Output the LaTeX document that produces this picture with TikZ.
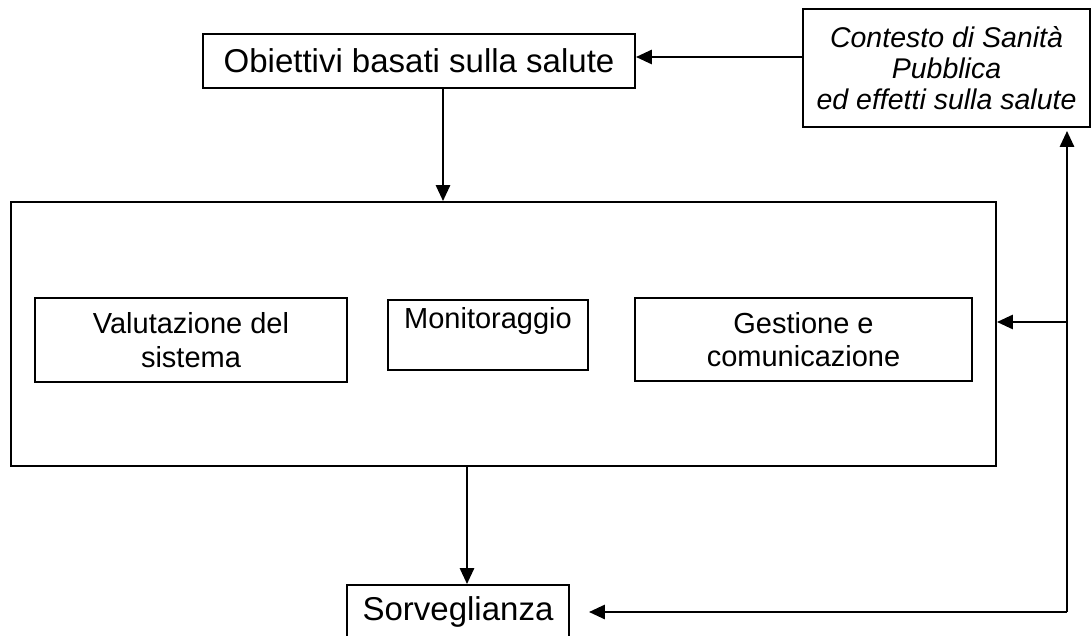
\documentclass[tikz,border=0pt]{standalone}
\usepackage{fontspec}
\setmainfont{Liberation Sans}
\usetikzlibrary{arrows.meta}
\begin{document}
\begin{tikzpicture}[x=1pt,y=-1pt,
  box/.style={draw,line width=1.8pt,inner sep=0pt,align=center,
    font=\fontsize{29}{33.5}\selectfont},
  arr/.style={line width=2.8pt,-{Triangle[length=16pt,width=14pt]}}]
\useasboundingbox (0,0) rectangle (1091,636);

\node[box,minimum width=432pt,minimum height=54pt,
  font=\fontsize{33}{38}\selectfont] (obiettivi) at (419,61) {Obiettivi basati sulla salute};
\node[box,minimum width=287pt,minimum height=118pt,
  font=\fontsize{28.5}{31}\selectfont\itshape] (contesto) at (946.5,68)
  {Contesto di Sanità\\Pubblica\\ed effetti sulla salute};

\node[box,minimum width=985pt,minimum height=264pt] (sistema) at (503.5,334) {};
\node[box,minimum width=312pt,minimum height=84pt] (valutazione) at (191,340) {Valutazione del\\sistema};
\node[box,minimum width=200pt,minimum height=70pt] (monitoraggio) at (488,335) {Monitoraggio\\~};
\node[box,minimum width=337pt,minimum height=83pt] (gestione) at (803.5,339.5) {Gestione e\\comunicazione};

\node[box,minimum width=222pt,minimum height=54pt,
  font=\fontsize{33}{38}\selectfont] (sorveglianza) at (458,612) {Sorveglianza};

% frecce
\coordinate (obin) at ([yshift=4pt]obiettivi.east);
\draw[arr] (contesto.west |- obin) -- (obin);
\coordinate (obout) at ([xshift=24pt]obiettivi.south);
\draw[arr] (obout) -- (obout |- sistema.north);
\coordinate (sorvin) at ([xshift=9pt]sorveglianza.north);
\draw[arr] (sistema.south -| sorvin) -- (sorvin);

% ritorno
\coordinate (corner) at (1067,612);
\draw[arr,shorten >=3pt] (corner) -- (corner |- contesto.south);
\draw[arr] (corner) -- ([xshift=19pt]sorveglianza.east);
\coordinate (sysin) at ([yshift=12pt]sistema.east);
\draw[arr] (sysin -| corner) -- (sysin);

\end{tikzpicture}
\end{document}
